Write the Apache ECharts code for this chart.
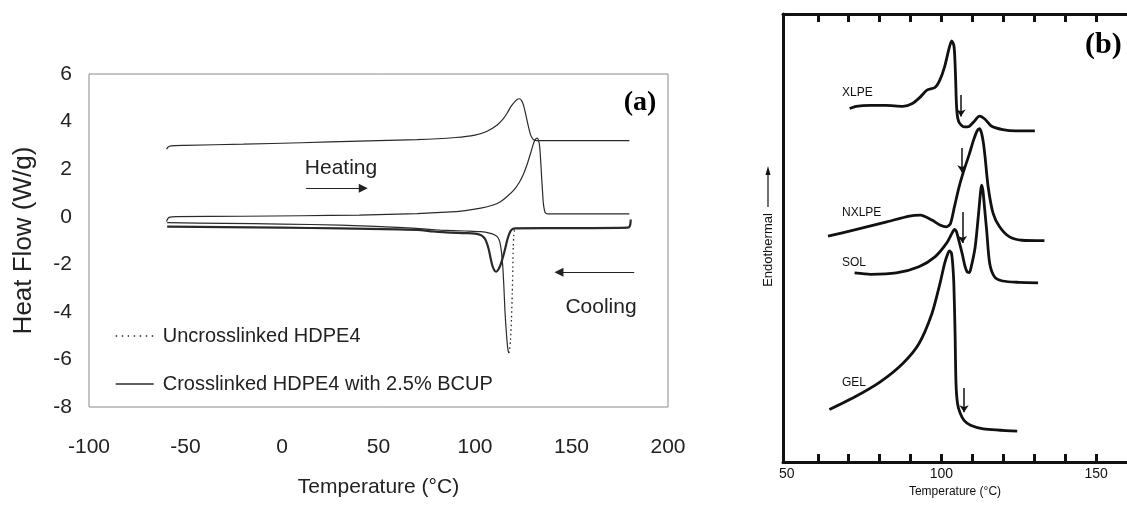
<!DOCTYPE html>
<html><head><meta charset="utf-8">
<script src="https://cdn.jsdelivr.net/npm/echarts@6/dist/echarts.min.js"></script>
<style>html,body{margin:0;padding:0;background:#fff}#c{width:1127px;height:506px}</style>
</head><body><div id="c"></div>
<script>
// ---------- Panel (a) data: DSC curves (x = °C, y = W/g) ----------
const aXTicks = [-100, -50, 0, 50, 100, 150, 200];
const aYTicks = [-8, -6, -4, -2, 0, 2, 4, 6];
const aHeatCross = [[-59.8,2.84],[-59.0,2.93],[-57.5,2.98],[-50,3.0],[-20,3.05],[10,3.11],[40,3.18],[70,3.24],[90,3.33],[100,3.43],[106,3.58],[111.5,3.86],[114.5,4.1],[116.7,4.36],[118.5,4.62],[120.2,4.80],[121.8,4.93],[123.1,4.96],[124.3,4.86],[125.3,4.64],[126.2,4.33],[127.1,4.0],[128.0,3.68],[128.8,3.44],[129.7,3.3],[130.5,3.23],[132,3.2],[180,3.2]];
const aHeatUncross = [[-59.8,-0.21],[-59.2,-0.08],[-58,-0.02],[-55,0.0],[-20,0.02],[10,0.04],[40,0.07],[70,0.13],[85,0.19],[95,0.26],[103,0.36],[109,0.48],[113.2,0.63],[116.5,0.84],[120.2,1.13],[123,1.45],[125.3,1.83],[127.2,2.25],[128.8,2.67],[130.2,3.05],[131.1,3.23],[132.3,3.30],[133.0,3.18],[133.5,2.95],[134.0,2.4],[134.5,1.69],[135.0,1.05],[135.4,0.57],[136.0,0.27],[136.6,0.15],[138,0.12],[180,0.12]];
const aCoolCross = [[-59.5,-0.42],[-30,-0.44],[0,-0.46],[30,-0.49],[60,-0.53],[72,-0.56],[78,-0.62],[85,-0.66],[95,-0.69],[100,-0.71],[102.9,-0.77],[104.5,-0.86],[105.5,-0.98],[106.4,-1.17],[107.2,-1.40],[108.1,-1.75],[108.9,-2.03],[110,-2.25],[111,-2.31],[112.1,-2.22],[113.2,-2.03],[114.1,-1.8],[115,-1.54],[115.9,-1.25],[116.7,-0.98],[117.6,-0.75],[118.5,-0.6],[119.5,-0.52],[121,-0.49],[150,-0.48],[179,-0.46],[180.3,-0.38],[180.7,-0.12]];
const aCoolUncross = [[-59.5,-0.25],[-30,-0.28],[0,-0.31],[30,-0.35],[60,-0.45],[75,-0.52],[82,-0.56],[95,-0.6],[103,-0.63],[108,-0.70],[110,-0.76],[111.5,-0.84],[112.5,-0.98],[113.2,-1.19],[113.8,-1.55],[114.4,-2.1],[115,-3.0],[115.5,-3.93],[116.1,-4.7],[116.7,-5.33],[117.1,-5.6],[117.5,-5.73]];
const aCoolUncrossDotted = [[117.5,-5.73],[117.9,-5.6],[118.4,-5.19],[118.9,-4.3],[119.3,-3.22],[119.6,-2.2],[119.8,-1.26],[120.1,-0.8],[120.5,-0.56],[121.5,-0.49],[180,-0.46]];
// annotation arrows [xStart, xEnd, y]
const aArrows = [[12.5, 42.1, 1.2], [182.5, 143.5, -2.34]];

// ---------- Panel (b) data (x = °C, y = endothermal, arbitrary units) ----------
const bXLabels = [50, 100, 150];
const bXTicks = [60, 70, 80, 90, 100, 110, 120, 130, 140, 150];
const bXLPE = [[70.3,78.9],[72.4,79.4],[77.1,79.6],[82,79.6],[87.5,79.4],[90.6,80.0],[93.2,81.5],[95.3,83.0],[97.9,83.6],[99.5,85.3],[101.0,88.2],[102.6,92.7],[103.3,94.0],[104.0,93.0],[104.3,90.5],[104.6,85],[104.8,80.5],[105.1,77.5],[105.7,75.8],[107.3,74.8],[108.9,74.9],[110.4,75.9],[112.3,77.2],[114.1,76.5],[116.1,75.0],[119.8,74.2],[124.0,73.9],[130.2,73.9]];
const bNXLPE = [[63.3,50.4],[71.9,51.8],[82.3,53.6],[89.6,54.9],[93.2,55.1],[96.9,54.0],[99.5,52.9],[101.6,52.5],[102.9,53.2],[104.2,57.0],[105.7,61.4],[107.3,65.2],[108.9,68.5],[110.4,71.9],[111.6,74.0],[112.3,74.4],[113.0,73.3],[113.6,71.0],[114.1,68.1],[115.1,61.4],[116.7,55.5],[118.8,52.5],[121.9,50.3],[126.0,49.5],[133.3,49.4]];
const bSOL = [[71.9,42.2],[77.1,41.9],[85.4,42.2],[92.7,43.6],[97.9,45.8],[101.6,48.8],[103.5,51.2],[104.2,51.9],[104.8,51.5],[105.6,49.5],[106.8,46.2],[107.6,43.7],[108.3,42.4],[109.0,42.3],[109.6,43.5],[110.9,48.0],[112.0,55.5],[112.7,60.7],[113.0,61.8],[113.4,60.6],[113.9,57.0],[114.6,51.8],[115.6,44.3],[117.2,41.3],[119.8,40.4],[125,40.1],[131.25,40.0]];
const bGEL = [[63.75,11.7],[71.9,14.5],[80.2,17.9],[87.5,22.0],[92.7,26.4],[96.9,33.1],[99.5,39.8],[101.0,44.3],[102.1,46.6],[102.6,47.1],[103.2,46.7],[103.6,44.5],[104.0,39.8],[104.4,28.7],[104.7,17.5],[105.2,13.0],[106,11.0],[107.3,9.3],[109.4,8.2],[113.5,7.4],[124.5,6.9]];
// small vertical arrows [x, yStart, yEnd]
const bArrows = [[106.3,81.9,77.1],[106.6,70.1,64.7],[106.8,55.8,48.9],[107.3,16.5,11.1]];

const SANS = '"Liberation Sans", Arial, sans-serif';
const SERIF = '"Liberation Serif", "Times New Roman", serif';

const chart = echarts.init(document.getElementById('c'), null, {renderer: 'canvas'});

function aLine(name, data, width, type, extra) {
  return Object.assign({
    name, type: 'line', data, xAxisIndex: 0, yAxisIndex: 0,
    showSymbol: false, symbol: 'none', smooth: 0.25, animation: false,
    itemStyle: {color: '#2a2a2a'},
    lineStyle: {color: '#2a2a2a', width, type}, z: 3
  }, extra || {});
}
function bLine(name, data, extra) {
  return Object.assign({
    name, type: 'line', data, xAxisIndex: 1, yAxisIndex: 1,
    showSymbol: false, symbol: 'none', smooth: 0.25, animation: false,
    itemStyle: {color: '#111'},
    lineStyle: {color: '#111', width: 2.8}
  }, extra || {});
}

const option = {
  backgroundColor: '#fff',
  animation: false,
  grid: [
    {left: 89, top: 74, width: 579, height: 333, show: true, borderColor: '#8a8a8a', borderWidth: 1, backgroundColor: 'transparent'},
    {left: 783, top: 14, width: 356, height: 448, show: false}
  ],
  legend: {
    orient: 'vertical', left: 115, top: 326, padding: 0, itemWidth: 38, itemHeight: 14, itemGap: 28,
    selectedMode: false,
    itemStyle: {opacity: 0, borderWidth: 0},
    lineStyle: {width: 1.3},
    textStyle: {fontSize: 20, color: '#222', fontFamily: SANS, padding: [0, 0, 0, 4]},
    data: [
      {name: 'Uncrosslinked HDPE4', lineStyle: {type: [1.5, 4.5], width: 1.4}},
      {name: 'Crosslinked HDPE4 with 2.5% BCUP', lineStyle: {type: 'solid', width: 1.3}}
    ]
  },
  xAxis: [
    {gridIndex: 0, type: 'value', min: aXTicks[0], max: aXTicks[aXTicks.length - 1], interval: 50,
     axisLine: {show: false, onZero: false}, axisTick: {show: false}, splitLine: {show: false},
     axisLabel: {fontSize: 21, color: '#222', fontFamily: SANS, margin: 30, customValues: aXTicks},
     name: 'Temperature (°C)', nameLocation: 'middle', nameGap: 70,
     nameTextStyle: {fontSize: 21, color: '#222', fontFamily: SANS}},
    {gridIndex: 1, type: 'value', position: 'bottom', min: 48.75, max: 160,
     axisLine: {show: true, onZero: false, lineStyle: {color: '#111', width: 3}},
     axisTick: {show: true, inside: true, length: 8, lineStyle: {color: '#111', width: 3}, customValues: bXTicks},
     axisLabel: {show: true, fontSize: 14, color: '#111', fontFamily: SANS, margin: 5, customValues: bXLabels},
     splitLine: {show: false},
     name: 'Temperature (°C)', nameLocation: 'middle', nameGap: 23,
     nameTextStyle: {fontSize: 12, color: '#111', fontFamily: SANS}},
    {gridIndex: 1, type: 'value', position: 'top', min: 48.75, max: 160,
     axisLine: {show: true, onZero: false, lineStyle: {color: '#111', width: 3}},
     axisTick: {show: true, inside: true, length: 8, lineStyle: {color: '#111', width: 3}, customValues: bXTicks},
     axisLabel: {show: false}, splitLine: {show: false}}
  ],
  yAxis: [
    {gridIndex: 0, type: 'value', min: aYTicks[0], max: aYTicks[aYTicks.length - 1], interval: 2,
     axisLine: {show: false, onZero: false}, axisTick: {show: false}, splitLine: {show: false},
     axisLabel: {fontSize: 21, color: '#222', fontFamily: SANS, margin: 17, customValues: aYTicks},
     name: 'Heat Flow (W/g)', nameLocation: 'middle', nameGap: 52,
     nameTextStyle: {fontSize: 26, color: '#222', fontFamily: SANS}},
    {gridIndex: 1, type: 'value', min: 0, max: 100,
     axisLine: {show: true, onZero: false, lineStyle: {color: '#111', width: 3}},
     axisTick: {show: false}, axisLabel: {show: false}, splitLine: {show: false}}
  ],
  series: [
    aLine('Crosslinked heating', aHeatCross, 1.2, 'solid', {
      markLine: {
        silent: true, animation: false, symbol: ['none', 'triangle'], symbolSize: 9,
        label: {show: false}, lineStyle: {color: '#222', width: 1.2, type: 'solid'},
        data: aArrows.map(a => [{coord: [a[0], a[2]]}, {coord: [a[1], a[2]]}])
      }
    }),
    aLine('Uncrosslinked heating', aHeatUncross, 1.2, 'solid'),
    aLine('Uncrosslinked cooling', aCoolUncross, 1.2, 'solid'),
    aLine('Uncrosslinked HDPE4', aCoolUncrossDotted, 1.3, [1.5, 3], {z: 2}),
    aLine('Crosslinked HDPE4 with 2.5% BCUP', aCoolCross, 2.2, 'solid', {z: 4}),
    bLine('XLPE', bXLPE, {
      markLine: {
        silent: true, animation: false, symbol: ['none', 'arrow'], symbolSize: 7,
        label: {show: false}, lineStyle: {color: '#111', width: 1.5, type: 'solid'},
        data: bArrows.map(a => [{coord: [a[0], a[1]]}, {coord: [a[0], a[2]]}])
      }
    }),
    bLine('NXLPE', bNXLPE),
    bLine('SOL', bSOL),
    bLine('GEL', bGEL)
  ],
  graphic: [
    {type: 'text', x: 341, y: 168, style: {text: 'Heating', font: '21px ' + SANS, fill: '#222', align: 'center', verticalAlign: 'middle', textAlign: 'center', textVerticalAlign: 'middle'}},
    {type: 'text', x: 601, y: 307, style: {text: 'Cooling', font: '21px ' + SANS, fill: '#222', align: 'center', verticalAlign: 'middle', textAlign: 'center', textVerticalAlign: 'middle'}},
    {type: 'text', x: 640, y: 103, style: {text: '(a)', font: 'bold 28px ' + SERIF, fill: '#000', align: 'center', verticalAlign: 'middle', textAlign: 'center', textVerticalAlign: 'middle'}},
    {type: 'text', x: 1085, y: 45, style: {text: '(b)', font: 'bold 30px ' + SERIF, fill: '#000', align: 'left', verticalAlign: 'middle', textAlign: 'left', textVerticalAlign: 'middle'}},
    {type: 'text', x: 842, y: 93, style: {text: 'XLPE', font: '12px ' + SANS, fill: '#111', align: 'left', verticalAlign: 'middle', textAlign: 'left', textVerticalAlign: 'middle'}},
    {type: 'text', x: 842, y: 213, style: {text: 'NXLPE', font: '12px ' + SANS, fill: '#111', align: 'left', verticalAlign: 'middle', textAlign: 'left', textVerticalAlign: 'middle'}},
    {type: 'text', x: 842, y: 263, style: {text: 'SOL', font: '12px ' + SANS, fill: '#111', align: 'left', verticalAlign: 'middle', textAlign: 'left', textVerticalAlign: 'middle'}},
    {type: 'text', x: 842, y: 383, style: {text: 'GEL', font: '12px ' + SANS, fill: '#111', align: 'left', verticalAlign: 'middle', textAlign: 'left', textVerticalAlign: 'middle'}},
    {type: 'text', x: 768, y: 250, rotation: Math.PI / 2, style: {text: 'Endothermal', font: '13px ' + SANS, fill: '#111', align: 'center', verticalAlign: 'middle', textAlign: 'center', textVerticalAlign: 'middle'}},
    {type: 'line', shape: {x1: 768, y1: 207, x2: 768, y2: 172}, style: {stroke: '#111', lineWidth: 1.2}},
    {type: 'polygon', shape: {points: [[765.5, 175], [770.5, 175], [768, 166]]}, style: {fill: '#111'}}
  ]
};
chart.setOption(option);
</script>
</body></html>
